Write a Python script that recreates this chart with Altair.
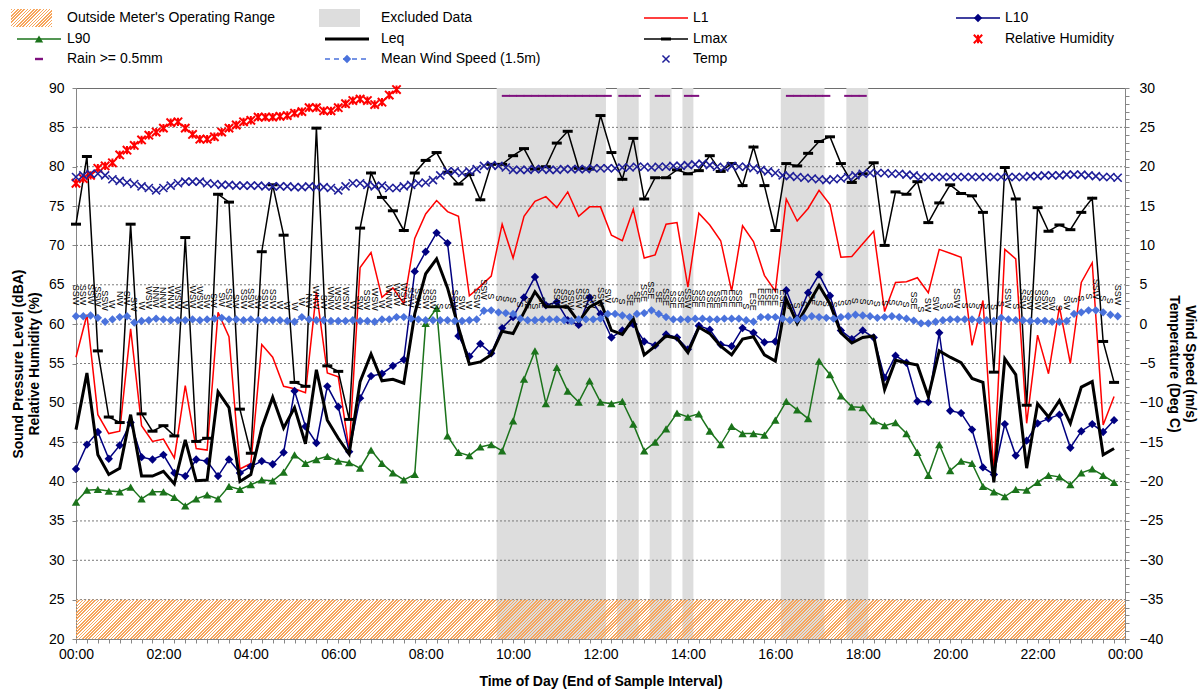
import altair as alt
import pandas as pd

# ---------------- data ----------------
# 15-minute noise statistics (dBA), end of interval, 00:00 .. 23:45
L1 = [55.8, 61.2, 48.5, 46.1, 46.4, 59.4, 47.1, 45.1, 45.4, 43.0,
      52.2, 44.2, 44.0, 61.5, 58.4, 41.6, 42.3, 57.4, 55.8, 52.1,
      51.8, 51.3, 64.1, 53.8, 53.3, 44.0, 67.2, 69.1, 63.4, 64.6,
      62.6, 70.9, 74.0, 75.7, 74.3, 73.7, 63.6, 64.8, 66.1, 72.7,
      68.4, 73.7, 75.6, 76.2, 74.8, 76.8, 73.7, 74.9, 74.9, 71.3,
      70.6, 74.6, 68.4, 68.8, 72.7, 72.9, 64.7, 74.1, 72.6, 70.6,
      64.2, 72.5, 70.5, 66.2, 64.2, 75.9, 73.1, 74.7, 77.0, 75.2,
      68.5, 68.6, 70.2, 71.8, 61.6, 65.3, 65.4, 65.9, 64.0, 69.5,
      69.0, 68.5, 57.3, 63.0, 41.1, 69.5, 68.3, 47.4, 58.6, 53.7,
      62.2, 55.0, 65.3, 67.8, 47.2, 50.8]
L10 = [41.6, 44.7, 46.3, 42.9, 44.6, 47.5, 43.1, 42.8, 43.4, 41.1,
       40.7, 42.8, 42.6, 40.7, 42.8, 41.1, 41.9, 42.6, 42.2, 43.7,
       51.5, 47.0, 44.9, 52.1, 49.5, 43.8, 50.6, 53.4, 53.7, 54.7,
       55.5, 66.7, 69.2, 71.6, 70.3, 58.5, 55.9, 57.5, 56.3, 59.5,
       60.9, 63.4, 66.0, 62.4, 62.8, 60.5, 59.9, 63.4, 61.3, 58.3,
       59.2, 60.0, 57.8, 57.3, 58.7, 58.3, 56.8, 59.8, 59.3, 57.4,
       57.2, 59.5, 58.9, 57.7, 57.8, 64.3, 60.7, 64.0, 66.3, 63.6,
       59.2, 58.1, 59.2, 58.3, 53.2, 56.0, 55.1, 50.2, 50.1, 58.9,
       49.0, 48.7, 46.6, 41.8, 40.9, 47.3, 43.3, 45.2, 47.4, 48.0,
       48.5, 44.3, 46.4, 47.3, 46.3, 47.8]
L90 = [37.4, 38.9, 39.0, 38.8, 38.7, 39.3, 37.8, 38.7, 38.7, 38.0,
       36.9, 37.8, 38.3, 37.8, 39.4, 39.0, 39.6, 40.2, 40.1, 41.2,
       43.4, 42.3, 42.8, 43.2, 42.6, 42.4, 41.7, 44.0, 42.3, 41.1,
       40.2, 40.9, 60.1, 62.0, 45.8, 43.7, 43.3, 44.4, 44.7, 43.9,
       47.7, 53.0, 56.6, 49.9, 54.5, 51.5, 50.1, 52.8, 50.1, 49.9,
       50.2, 47.3, 43.9, 45.0, 46.7, 48.7, 48.2, 48.6, 46.4, 44.7,
       47.0, 46.1, 46.1, 45.9, 47.8, 50.2, 49.1, 48.0, 55.3, 53.6,
       50.9, 49.5, 49.4, 47.7, 47.1, 47.5, 46.1, 43.7, 40.8, 44.7,
       41.4, 42.6, 42.3, 39.4, 38.7, 38.1, 39.0, 38.9, 39.9, 40.8,
       40.6, 39.6, 41.1, 41.6, 40.8, 39.9]
LEQ = [46.6, 53.8, 43.4, 40.9, 41.7, 48.5, 40.7, 40.7, 41.3, 39.7,
       45.3, 40.1, 40.2, 51.4, 49.4, 40.0, 40.9, 46.8, 50.7, 46.8,
       49.4, 44.8, 54.2, 47.8, 45.5, 43.5, 52.7, 56.2, 52.8, 53.0,
       52.5, 61.3, 66.4, 68.3, 64.6, 59.6, 54.9, 55.2, 56.1, 59.1,
       58.8, 61.5, 64.1, 62.2, 62.2, 62.2, 60.3, 62.2, 62.9, 59.2,
       58.7, 60.7, 56.1, 57.2, 58.5, 58.2, 56.4, 59.6, 58.8, 57.2,
       56.1, 58.1, 58.4, 56.1, 55.3, 63.2, 60.1, 62.5, 64.9, 62.6,
       58.9, 57.6, 58.3, 58.5, 51.7, 55.4, 55.1, 54.8, 50.8, 56.6,
       55.8, 55.1, 53.1, 52.6, 39.9, 55.6, 53.6, 41.7, 49.9, 48.2,
       50.3, 47.4, 52.0, 52.7, 43.4, 44.2]
LMAX = [72.7, 81.3, 56.6, 48.2, 47.5, 72.7, 48.6, 46.4, 47.1, 45.8,
        71.0, 45.1, 45.5, 76.5, 75.5, 49.2, 43.6, 69.2, 77.7, 71.3,
        52.6, 52.1, 84.9, 54.7, 54.0, 47.9, 72.2, 79.2, 76.1, 74.4,
        71.9, 79.2, 80.8, 81.8, 79.3, 77.8, 79.0, 75.8, 80.3, 80.3,
        81.4, 82.3, 79.7, 80.0, 83.0, 84.5, 79.8, 79.7, 86.5, 81.8,
        78.4, 83.6, 75.9, 78.6, 78.6, 79.6, 79.1, 79.5, 81.4, 79.4,
        80.4, 77.6, 82.5, 77.6, 71.9, 80.4, 80.1, 81.7, 83.2, 83.8,
        80.4, 78.0, 79.1, 80.5, 70.0, 76.8, 76.5, 78.1, 72.9, 75.4,
        77.7, 76.6, 76.3, 74.2, 53.9, 79.9, 75.9, 49.7, 74.8, 71.8,
        72.6, 72.0, 74.2, 76.0, 57.8, 52.6]

# 10-minute weather, 00:00 .. 23:50
HUMIDITY = [77.9, 78.5, 78.9, 79.8, 80.1, 80.5, 81.5, 82.1, 82.7, 83.4,
            84.0, 84.4, 84.9, 85.6, 85.7, 84.9, 84.1, 83.5, 83.5, 83.8,
            84.4, 84.9, 85.3, 85.7, 85.9, 86.3, 86.3, 86.3, 86.4, 86.5,
            86.8, 87.0, 87.5, 87.5, 87.1, 87.1, 87.5, 88.0, 88.4, 88.6,
            88.4, 87.9, 88.2, 89.1, 89.8]
TEMP = [18.7, 18.9, 19.1, 19.1, 18.9, 18.4, 18.2, 18.0, 17.8, 17.5,
        17.3, 17.0, 17.3, 17.6, 17.9, 18.1, 18.1, 18.1, 17.9, 17.8,
        17.7, 17.7, 17.6, 17.6, 17.6, 17.6, 17.5, 17.5, 17.5, 17.5,
        17.4, 17.4, 17.5, 17.4, 17.4, 17.3, 17.0, 17.5, 17.9, 17.9,
        17.7, 17.5, 17.6, 17.3, 17.3, 17.5, 17.7, 17.9, 18.0, 18.3,
        18.9, 19.4, 19.4, 19.2, 19.4, 19.7, 20.1, 20.2, 20.1, 19.9,
        19.6, 19.6, 19.6, 19.7, 19.7, 19.6, 19.6, 19.7, 19.7, 19.7,
        19.7, 19.8, 19.8, 19.8, 19.8, 19.9, 19.9, 20.0, 20.0, 19.9,
        20.0, 20.0, 20.1, 20.1, 20.2, 20.3, 20.4, 20.2, 20.0, 19.9,
        20.1, 20.0, 20.0, 19.8, 19.6, 19.4, 19.2, 18.9, 18.8, 18.7,
        18.6, 18.5, 18.4, 18.3, 18.4, 18.5, 18.7, 18.9, 19.1, 19.2,
        19.2, 19.2, 19.1, 19.1, 19.0, 18.9, 18.7, 18.7, 18.7, 18.7,
        18.7, 18.7, 18.7, 18.7, 18.7, 18.7, 18.7, 18.7, 18.7, 18.7,
        18.7, 18.8, 18.8, 18.9, 18.9, 18.9, 19.0, 19.0, 19.0, 18.9,
        18.8, 18.7, 18.7, 18.6]
WIND = [1.0, 1.0, 1.1, 0.8, 0.3, 0.6, 0.9, 1.0, 0.2, 0.4,
        0.5, 0.7, 0.6, 0.5, 0.5, 0.5, 0.6, 0.5, 0.6, 0.7,
        0.8, 0.6, 0.6, 0.5, 0.6, 0.5, 0.5, 0.5, 0.5, 0.4,
        0.3, 0.9, 0.6, 0.5, 0.5, 0.4, 0.4, 0.4, 0.5, 0.4,
        0.4, 0.3, 0.6, 0.6, 0.9, 0.9, 0.7, 0.6, 0.5, 0.5,
        0.5, 0.5, 0.4, 0.4, 0.5, 0.6, 1.7, 1.75, 1.5, 1.4,
        1.3, 0.7, 0.5, 0.5, 0.6, 0.6, 0.6, 0.5, 0.4, 0.6,
        0.6, 0.6, 0.7, 1.3, 1.3, 1.1, 0.9, 1.3, 1.4, 1.75,
        1.3, 0.9, 0.6, 0.6, 0.6, 0.7, 0.7, 0.6, 0.6, 0.7,
        0.7, 0.7, 0.5, 0.3, 0.9, 0.9, 0.9, 0.7, 0.5, 0.6,
        0.8, 1.0, 0.9, 0.8, 0.7, 0.9, 1.0, 1.2, 1.1, 1.0,
        0.8, 0.9, 1.0, 0.9, 0.7, 0.45, 0.1, 0.1, 0.3, 0.5,
        0.6, 0.6, 0.6, 0.6, 0.5, 0.5, 0.4, 0.8, 0.6, 0.5,
        0.5, 0.4, 0.4, 0.4, 0.3, 0.3, 0.4, 1.3, 1.5, 1.75,
        1.75, 1.5, 1.2, 1.0]
WIND_DIR = ["SSW", "SSW", "SSW", "SSW", "SSW", "W", "NW", "SW", "SW", "W",
            "WSW", "NNW", "NNW", "WNW", "WSW", "W", "WSW", "WSW", "SW", "SW",
            "SW", "SSW", "SW", "SSW", "SSW", "SW", "SSW", "SSW", "W", "W",
            "W", "W", "NW", "WNW", "SW", "WNW", "WSW", "WSW", "W", "SW",
            "SSW", "WSW", "W", "WNW", "WSW", "WSW", "SSW", "SSW", "SSW", "SSW",
            "S", "S", "SSW", "SW", "W", "SSW", "SSW", "S", "S", "S",
            "S", "S", "SE", "S", "SE", "S", "SSW", "SSW", "SSW", "SSW",
            "SSW", "SW", "SSW", "SW", "S", "S", "SE", "SE", "SSE", "SSE",
            "SE", "SSE", "SSE", "SSE", "SSW", "SSE", "SSE", "SSE", "SSE", "ESE",
            "ESE", "SSE", "S", "ESE", "ESE", "ESE", "ESE", "ESE", "S", "S",
            "S", "SE", "S", "S", "S", "S", "S", "S", "S", "S",
            "S", "S", "S", "S", "S", "SSE", "S", "SW", "SW", "S",
            "S", "SSW", "S", "S", "S", "S", "S", "S", "SSW", "S",
            "SSW", "SSW", "SSW", "SSW", "SW", "S", "SW", "S", "S", "S",
            "SSW", "S", "S", "SSW"]
RAIN_IDX = [59, 60, 61, 62, 63, 64, 65, 66, 67, 68, 69, 70, 71, 72, 73,
            75, 76, 77, 80, 81, 84, 85, 98, 99, 100, 101, 102, 103,
            106, 107, 108]
RAIN_LEVEL = 29
EXCL_START = [9.625, 12.375, 13.125, 13.875, 16.125, 17.625]
EXCL_END = [12.125, 12.875, 13.625, 14.125, 17.125, 18.125]
RANGE_LO, RANGE_HI = 20, 25
GRID_DB = [25, 30, 35, 40, 45, 50, 55, 60, 65, 70, 75, 80, 85]

# ---------------- tables ----------------
noise = pd.DataFrame({"t": [i * 0.25 for i in range(len(L1))],
                      "L1": L1, "L10": L10, "L90": L90, "Leq": LEQ, "Lmax": LMAX})
weather = pd.DataFrame({"t": [j / 6 for j in range(len(WIND))],
                        "wind": WIND, "temp": TEMP, "dir": WIND_DIR})
hum = pd.DataFrame({"t": [j / 6 for j in range(len(HUMIDITY))], "rh": HUMIDITY})
rain = pd.DataFrame({"t": [j / 6 for j in RAIN_IDX], "v": [RAIN_LEVEL] * len(RAIN_IDX)})
excl = pd.DataFrame({"start": EXCL_START, "end": EXCL_END})
band = pd.DataFrame({"x0": [0], "x1": [24], "lo": [RANGE_LO], "hi": [RANGE_HI]})
grid = pd.DataFrame({"g": GRID_DB})

# ---------------- layout / style ----------------
W, H = 1049, 551
PAD = {"left": 76, "top": 88, "right": 78, "bottom": 54}
FONT = "Liberation Sans"
ORANGE = "#F7A55B"
GREY_BAND = "#DDDDDD"
NAVY = "#000080"
GREEN = "#1B731B"
WBLUE = "#4A72DC"
PURPLE = "#7E107E"
TEMPC = "#1F1F99"


def hatch(w, h, period=3.2):
    k = h / w
    s = 1 + k
    dt = period / (w * s * (1 + k * k))
    stops = []
    t = 0.0
    clear = "rgba(255,255,255,0)"
    while t < 1.0:
        a = round(t, 6)
        b = round(min(t + dt * 0.5, 1.0), 6)
        c = round(min(t + dt, 1.0), 6)
        stops += [{"color": ORANGE, "offset": a}, {"color": ORANGE, "offset": b},
                  {"color": clear, "offset": b}, {"color": clear, "offset": c}]
        t += dt
    return alt.LinearGradient(gradient="linear", stops=stops, x1=0, y1=0, x2=s, y2=s * k)


xs = alt.Scale(domain=[0, 24], nice=False, zero=False)
yl = alt.Scale(domain=[20, 90], nice=False, zero=False)
yr = alt.Scale(domain=[-40, 30], nice=False, zero=False)

x_axis = alt.Axis(
    values=[i * 0.25 for i in range(97)],
    labelExpr="datum.value % 2 == 0 ? ((datum.value % 24) < 10 ? '0' : '') + (datum.value % 24) + ':00' : ''",
    labelOverlap=False, labelFlush=False, labelFontSize=14, labelColor="#000000",
    tickSize=4, tickColor="#868686", domainColor="#868686", grid=False,
    labelPadding=4, title="Time of Day (End of Sample Interval)", titleFontSize=14,
    titleFontWeight="bold", titleColor="#000000", titlePadding=13)
yl_axis = alt.Axis(
    orient="left", values=list(range(20, 95, 5)), grid=False,
    tickSize=4, tickColor="#868686", domainColor="#868686",
    labelFontSize=14, labelColor="#000000", labelPadding=8,
    title=["Sound Pressure Level (dBA)", "Relative Humidity (%)"], titleFontSize=14,
    titleFontWeight="bold", titleColor="#000000", titlePadding=7)
yr_axis = alt.Axis(
    orient="right", values=list(range(-40, 31)),
    labelExpr="datum.value % 5 == 0 ? datum.label : ''", labelOverlap=False,
    grid=False, tickSize=4, tickColor="#868686", domainColor="#868686",
    labelFontSize=14, labelColor="#000000", labelPadding=10,
    title=["Wind Speed (m/s)", "Temperature (Deg C)"], titleFontSize=14,
    titleFontWeight="bold", titleColor="#000000", titlePadding=4)

X = alt.X("t:Q", scale=xs, axis=x_axis)

# ---------------- left-axis layers ----------------
excl_layer = alt.Chart(excl).mark_rect(color=GREY_BAND).encode(
    x=alt.X("start:Q", scale=xs, axis=x_axis), x2="end:Q",
    y=alt.value(0), y2=alt.value(H))
grid_layer = alt.Chart(grid).mark_rule(color="#7A7A7A", strokeWidth=1, strokeDash=[2, 2]).encode(
    x=alt.value(0), x2=alt.value(W), y=alt.Y("g:Q", scale=yl, axis=None))
band_layer = alt.Chart(band).mark_rect(fill=hatch(W, H * 5 / 70)).encode(
    x=alt.X("x0:Q", scale=xs, axis=x_axis), x2="x1:Q",
    y=alt.Y("lo:Q", scale=yl, axis=None), y2="hi:Q")
l1_layer = alt.Chart(noise).mark_line(color="#FF0000", strokeWidth=1.5).encode(
    x=X, y=alt.Y("L1:Q", scale=yl, axis=yl_axis))
l10_line = alt.Chart(noise).mark_line(color=NAVY, strokeWidth=1.5).encode(
    x=X, y=alt.Y("L10:Q", scale=yl, axis=None))
l10_pts = alt.Chart(noise).mark_point(shape="diamond", filled=True, size=70, color=NAVY, opacity=1).encode(
    x=X, y=alt.Y("L10:Q", scale=yl, axis=None))
l90_line = alt.Chart(noise).mark_line(color=GREEN, strokeWidth=1.5).encode(
    x=X, y=alt.Y("L90:Q", scale=yl, axis=None))
l90_pts = alt.Chart(noise).mark_point(shape="triangle-up", filled=True, size=70, color=GREEN, opacity=1).encode(
    x=X, y=alt.Y("L90:Q", scale=yl, axis=None))
leq_line = alt.Chart(noise).mark_line(color="#000000", strokeWidth=3).encode(
    x=X, y=alt.Y("Leq:Q", scale=yl, axis=None))
lmax_line = alt.Chart(noise).mark_line(color="#000000", strokeWidth=1.5).encode(
    x=X, y=alt.Y("Lmax:Q", scale=yl, axis=None))
DASH = "M-1,-0.3H1V0.3H-1Z"
lmax_pts = alt.Chart(noise).mark_point(shape=DASH, filled=True, size=100, color="#000000", opacity=1).encode(
    x=X, y=alt.Y("Lmax:Q", scale=yl, axis=None))
STAR = "M-1,-1L1,1M-1,1L1,-1M0,-1L0,1"
XMARK = "M-1,-1L1,1M-1,1L1,-1"
hum_pts = alt.Chart(hum).mark_point(shape=STAR, filled=False, size=70, color="#FF0000",
                                     strokeWidth=2, opacity=1).encode(
    x=X, y=alt.Y("rh:Q", scale=yl, axis=None))

# ---------------- right-axis layers ----------------
rain_layer = alt.Chart(rain).mark_point(shape="M-1,-0.25H1V0.25H-1Z", filled=True, size=64,
                                        color=PURPLE, opacity=1).encode(
    x=X, y=alt.Y("v:Q", scale=yr, axis=None))
dir_layer = alt.Chart(weather).mark_text(angle=90, align="right", baseline="middle", dx=-11,
                                         fontSize=9, font=FONT, color="#000000").encode(
    x=X, y=alt.Y("wind:Q", scale=yr, axis=None), text="dir:N")
wind_line = alt.Chart(weather).mark_line(color=WBLUE, strokeWidth=1.5, strokeDash=[5, 4]).encode(
    x=X, y=alt.Y("wind:Q", scale=yr, axis=yr_axis))
wind_pts = alt.Chart(weather).mark_point(shape="diamond", filled=True, size=70, color=WBLUE, opacity=1).encode(
    x=X, y=alt.Y("wind:Q", scale=yr, axis=None))
temp_pts = alt.Chart(weather).mark_point(shape=XMARK, filled=False, size=64,
                                         color=TEMPC, strokeWidth=1.6, opacity=1).encode(
    x=X, y=alt.Y("temp:Q", scale=yr, axis=None))

# ---------------- legend (drawn in the top padding) ----------------
one = pd.DataFrame({"a": [0]})
R1, R2, R3 = -70, -49, -29
C1, C2, C3, C4 = -65, 249, 568, 880     # symbol left edges (relative to plot origin)
SW_ = 44
legend = []


def leg_text(x, y, s):
    legend.append(alt.Chart(one).mark_text(text=s, align="left", baseline="middle", fontSize=14,
                                           font=FONT, color="#000000").encode(
        x=alt.value(x), y=alt.value(y)))


def leg_rule(x, y, color, width, dash=None):
    kw = dict(color=color, strokeWidth=width)
    if dash:
        kw["strokeDash"] = dash
    legend.append(alt.Chart(one).mark_rule(**kw).encode(
        x=alt.value(x), x2=alt.value(x + SW_), y=alt.value(y)))


def leg_point(x, y, **kw):
    legend.append(alt.Chart(one).mark_point(opacity=1, **kw).encode(
        x=alt.value(x), y=alt.value(y)))


legend.append(alt.Chart(one).mark_rect(fill=hatch(41, 18)).encode(
    x=alt.value(C1), x2=alt.value(C1 + 41), y=alt.value(R1 - 9), y2=alt.value(R1 + 9)))
leg_text(C1 + 56, R1, "Outside Meter's Operating Range")
legend.append(alt.Chart(one).mark_rect(color=GREY_BAND).encode(
    x=alt.value(C2 - 6), x2=alt.value(C2 + 35), y=alt.value(R1 - 9), y2=alt.value(R1 + 9)))
leg_text(C2 + 56, R1, "Excluded Data")
leg_rule(C3, R1, "#FF0000", 1.5)
leg_text(C3 + 49, R1, "L1")
leg_rule(C4, R1, NAVY, 1.5)
leg_point(C4 + SW_ / 2, R1, shape="diamond", filled=True, size=70, color=NAVY)
leg_text(C4 + 49, R1, "L10")

leg_rule(C1 + 6, R2, GREEN, 1.5)
leg_point(C1 + 6 + SW_ / 2, R2, shape="triangle-up", filled=True, size=70, color=GREEN)
leg_text(C1 + 56, R2, "L90")
leg_rule(C2, R2, "#000000", 3)
leg_text(C2 + 56, R2, "Leq")
leg_rule(C3, R2, "#000000", 1.5)
leg_point(C3 + SW_ / 2, R2, shape=DASH, filled=True, size=100, color="#000000")
leg_text(C3 + 49, R2, "Lmax")
leg_point(C4 + SW_ / 2, R2, shape=STAR, filled=False, size=70, color="#FF0000", strokeWidth=2)
leg_text(C4 + 49, R2, "Relative Humidity")

leg_point(C1 + 6 + SW_ / 2, R3, shape=DASH, filled=True, size=64, color=PURPLE)
leg_text(C1 + 56, R3, "Rain >= 0.5mm")
leg_rule(C2, R3, WBLUE, 1.5, dash=[5, 4])
leg_point(C2 + SW_ / 2, R3, shape="diamond", filled=True, size=70, color=WBLUE)
leg_text(C2 + 56, R3, "Mean Wind Speed (1.5m)")
leg_point(C3 + SW_ / 2, R3, shape=XMARK, filled=False, size=50, color=TEMPC, strokeWidth=1.5)
leg_text(C3 + 49, R3, "Temp")

chart = alt.layer(
    excl_layer, grid_layer, band_layer, l1_layer, l10_line, l10_pts, l90_line, l90_pts,
    leq_line, lmax_line, lmax_pts, hum_pts,
    rain_layer, dir_layer, wind_line, wind_pts, temp_pts, *legend
).resolve_scale(y="independent").properties(
    width=W, height=H, autosize=alt.AutoSizeParams(type="none"), padding=PAD,
    background="#FFFFFF"
).configure_view(stroke="#6E6E6E", strokeWidth=1).configure_axis(
    labelFont=FONT, titleFont=FONT).configure_text(font=FONT)

chart.save("out.html", embed_options={"renderer": "svg", "actions": False})
